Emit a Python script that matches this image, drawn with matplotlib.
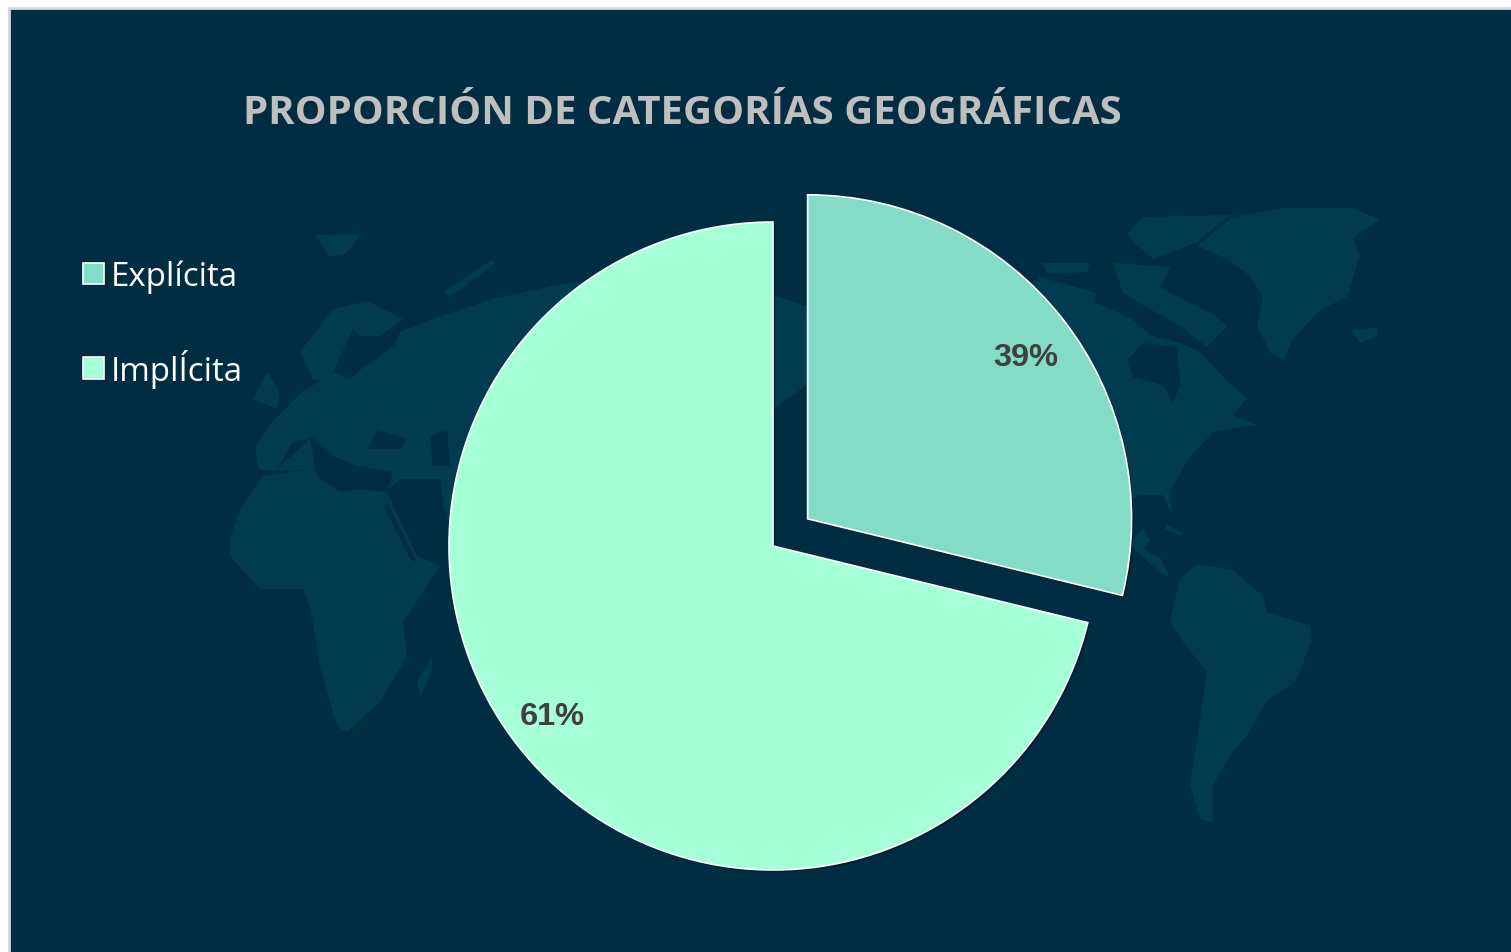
#!/usr/bin/env python3

import matplotlib
matplotlib.use("Agg")
import matplotlib.pyplot as plt
import matplotlib.patheffects as pe
from matplotlib.patches import Polygon, Rectangle

W, H = 1511, 953

title = "PROPORCIÓN DE CATEGORÍAS GEOGRÁFICAS"
categories = ["Explícita", "ImplÍcita"]
# slice sizes as drawn, the printed labels do not agree with them
drawn_share = [28.8, 71.2]
printed_labels = ["39%", "61%"]
colors = ["#85dcc6", "#a6ffd6"]

BG = "#002d42"
LAND = "#003b50"

# rough outline of the faint world map behind the pie, in picture pixels
land_shapes = [
    [(1197,247),(1233,218),(1283,209),(1350,209),(1380,220),(1353,239),(1360,256),(1347,298),
     (1320,311),(1293,340),(1283,361),(1270,353),(1257,327),(1263,298),(1250,277),(1227,260)],
    [(1350,331),(1377,329),(1378,336),(1360,344)],
    [(1033,281),(1083,298),(1130,319),(1150,336),(1180,344),(1200,353),(1227,382),(1247,399),
     (1233,416),(1257,426),(1240,428),(1213,433),(1190,458),(1170,492),(1172,515),(1163,496),
     (1140,496),(1132,500),(1132,542),(1143,529),(1150,542),(1143,550),(1160,559),(1170,578),
     (1160,574),(1140,555),(1130,546),(1040,480)],
    [(1127,235),(1143,218),(1230,216),(1197,243),(1153,260),(1133,243)],
    [(1043,264),(1090,264),(1087,273),(1047,275)],
    [(1113,264),(1170,268),(1160,289),(1213,315),(1227,327),(1207,348),(1180,327),(1143,306),(1123,294)],
    [(1037,277),(1097,294),(1093,310),(1057,306)],
    [(1180,580),(1197,565),(1233,571),(1263,597),(1267,614),(1310,626),(1312,639),(1297,681),
     (1267,702),(1247,736),(1230,757),(1213,786),(1213,824),(1200,820),(1190,786),(1197,740),
     (1207,673),(1183,643),(1170,622)],
    [(1167,526),(1185,535),(1180,537),(1165,530)],
    [(230,540),(240,510),(263,477),(313,470),(357,490),(387,493),(417,557),(440,567),(403,623),
     (407,657),(380,703),(347,733),(337,727),(320,667),(310,607),(303,590),(260,590),(230,557)],
    [(433,657),(430,677),(420,697),(417,683)],
    [(255,448),(270,425),(300,395),(330,375),(370,365),(395,345),(400,333),(433,320),(493,300),
     (560,285),(700,270),(808,308),(808,385),(760,420),(700,550),(445,520),(440,480),(400,480),
     (390,490),(360,470),(320,470),(270,472),(258,470)],
    [(300,353),(333,310),(367,302),(403,320),(380,337),(360,337),(340,363),(327,383),(313,380)],
    [(253,400),(267,373),(280,393),(277,410)],
    [(315,236),(362,235),(345,255),(330,258)],
    [(443,293),(493,260),(495,265),(450,298)],
]
sea_shapes = [
    [(1127,361),(1143,344),(1177,348),(1180,386),(1173,405),(1163,386),(1133,378)],
    [(277,470),(293,443),(310,440),(317,477),(340,493),(390,487),(392,473),(357,467),(333,457),(313,437)],
    [(367,450),(377,430),(407,440),(400,450)],
    [(430,437),(447,430),(450,467),(433,467)],
    [(387,503),(417,563),(410,560),(385,510)],
    [(333,373),(353,330),(360,337),(350,360),(373,360),(350,380)],
    [(430,497),(447,513),(447,520)],
]

fig = plt.figure(figsize=(W / 100, H / 100), dpi=100, facecolor="white")

# background layer works in picture pixels, y downwards
bg = fig.add_axes([0, 0, 1, 1])
bg.set_xlim(0, W)
bg.set_ylim(H, 0)
bg.axis("off")
bg.add_patch(Rectangle((9, 8.5), W, H, facecolor=BG, edgecolor="#d4d8da", lw=2))
for shape in land_shapes:
    bg.add_patch(Polygon(shape, closed=True, facecolor=LAND, edgecolor="none"))
for shape in sea_shapes:
    bg.add_patch(Polygon(shape, closed=True, facecolor=BG, edgecolor="none"))

bg.text(243, 123.5, title, family="Open Sans", fontweight="bold", fontsize=28.9,
        color="#bfbfbf", ha="left", va="baseline")

ax = fig.add_axes([0, 0, 1, 1])
ax.patch.set_alpha(0)
wedges, texts = ax.pie(drawn_share, explode=[44, 0], labels=printed_labels, colors=colors,
                       startangle=90, counterclock=False, center=(773, H - 547), radius=324,
                       labeldistance=0.85, frame=True,
                       wedgeprops={"edgecolor": "white", "linewidth": 1.2})
ax.set_xlim(0, W)
ax.set_ylim(0, H)
ax.axis("off")
for t, pos in zip(texts, [(1026, H - 358), (552, H - 717)]):
    t.set(family="Liberation Sans", fontweight="bold", fontsize=23.4, color="#404040",
          ha="center", va="center", position=pos)

leg = fig.legend(wedges, categories, loc="upper left", bbox_to_anchor=(83 / W, 1 - 260.5 / H),
                 frameon=False, prop={"family": "Open Sans", "size": 23.8}, labelcolor="white",
                 handlelength=0.63, handleheight=0.63, handletextpad=0.22,
                 labelspacing=1.69, borderpad=0, borderaxespad=0)

for w in wedges:
    w.set_path_effects([pe.SimplePatchShadow(offset=(1.5, -1.5), alpha=0.3, shadow_rgbFace="black"),
                        pe.Normal()])

fig.savefig("out.png", dpi=100, facecolor=fig.get_facecolor())
